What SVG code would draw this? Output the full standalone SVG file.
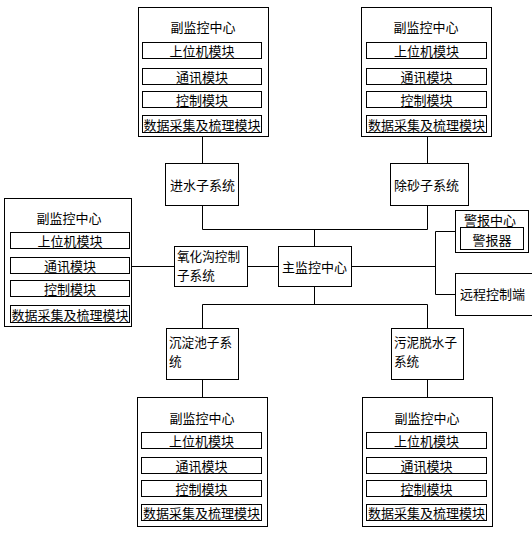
<svg xmlns="http://www.w3.org/2000/svg" width="532" height="533" viewBox="0 0 532 533">
<style>
rect{fill:#fff;stroke:#000;stroke-width:1}
.c{fill:none;stroke:#000;stroke-width:1}
text{font-family:"Noto Sans CJK SC","Noto Sans",sans-serif;font-size:13px;fill:#000;dominant-baseline:central}
.m{text-anchor:middle}
.two{font-size:12.6px}
</style>
<rect x="0" y="0" width="532" height="533" style="stroke:none"/>
<g id="connectors">
<path class="c" d="M202.5 137V163.5M427.5 137V163.5M202.5 205.5V229.5H427.5V205.5M314.5 229.5V246.5M131.5 266.5H174.5M247.5 266.5H278.5M351.5 266.5H435.5M435.5 231.5V294.5M435.5 231.5H455.5M435.5 294.5H455.5M314.5 286.5V304.5M202.5 304.5H427.5M202.5 304.5V328.5M427.5 304.5V328.5M202.5 379.5V397.5M427.5 379.5V397.5"/>
</g>
<g id="sub-top-left">
<rect x="138.5" y="7.5" width="130" height="129"/>
<text class="m" x="203" y="26">副监控中心</text>
<rect x="142.5" y="42.5" width="119" height="16"/><text class="m" x="202" y="50.5">上位机模块</text>
<rect x="142.5" y="68.5" width="119" height="16"/><text class="m" x="202" y="76.5">通讯模块</text>
<rect x="142.5" y="91.5" width="119" height="16"/><text class="m" x="202" y="99.5">控制模块</text>
<rect x="142.5" y="115.5" width="119" height="17"/><text class="m" x="202" y="124">数据采集及梳理模块</text>
</g>
<g id="sub-top-right">
<rect x="361.5" y="7.5" width="130" height="129"/>
<text class="m" x="426" y="26">副监控中心</text>
<rect x="366.5" y="42.5" width="120" height="16"/><text class="m" x="426.5" y="50.5">上位机模块</text>
<rect x="366.5" y="68.5" width="120" height="16"/><text class="m" x="426.5" y="76.5">通讯模块</text>
<rect x="366.5" y="91.5" width="120" height="16"/><text class="m" x="426.5" y="99.5">控制模块</text>
<rect x="366.5" y="115.5" width="120" height="17"/><text class="m" x="426.5" y="124">数据采集及梳理模块</text>
</g>
<g id="sub-left">
<rect x="4.5" y="198.5" width="127" height="128"/>
<text class="m" x="69" y="217.5">副监控中心</text>
<rect x="10.5" y="232.5" width="119" height="16"/><text class="m" x="70" y="240.5">上位机模块</text>
<rect x="10.5" y="257.5" width="119" height="16"/><text class="m" x="70" y="265.5">通讯模块</text>
<rect x="10.5" y="280.5" width="119" height="16"/><text class="m" x="70" y="288.5">控制模块</text>
<rect x="10.5" y="305.5" width="119" height="17"/><text class="m" x="70" y="314">数据采集及梳理模块</text>
</g>
<g id="sub-bottom-left">
<rect x="137.5" y="397.5" width="130" height="129"/>
<text class="m" x="202" y="417.5">副监控中心</text>
<rect x="141.5" y="432.5" width="120" height="16"/><text class="m" x="201.5" y="440.5">上位机模块</text>
<rect x="141.5" y="457.5" width="120" height="16"/><text class="m" x="201.5" y="465.5">通讯模块</text>
<rect x="141.5" y="480.5" width="120" height="16"/><text class="m" x="201.5" y="488.5">控制模块</text>
<rect x="141.5" y="504.5" width="120" height="16"/><text class="m" x="201.5" y="512.5">数据采集及梳理模块</text>
</g>
<g id="sub-bottom-right">
<rect x="362.5" y="397.5" width="130" height="129"/>
<text class="m" x="427" y="417.5">副监控中心</text>
<rect x="366.5" y="432.5" width="120" height="16"/><text class="m" x="426.5" y="440.5">上位机模块</text>
<rect x="366.5" y="457.5" width="120" height="16"/><text class="m" x="426.5" y="465.5">通讯模块</text>
<rect x="366.5" y="480.5" width="120" height="16"/><text class="m" x="426.5" y="488.5">控制模块</text>
<rect x="366.5" y="504.5" width="120" height="16"/><text class="m" x="426.5" y="512.5">数据采集及梳理模块</text>
</g>
<g id="inlet"><rect x="165.5" y="163.5" width="73" height="42"/><text x="170" y="184.5">进水子系统</text></g>
<g id="desand"><rect x="390.5" y="163.5" width="78" height="42"/><text x="394" y="184.5">除砂子系统</text></g>
<g id="oxidation"><rect x="174.5" y="246.5" width="73" height="40"/><text class="two" x="177" y="255.5">氧化沟控制<tspan x="177" dy="18.5">子系统</tspan></text></g>
<g id="main"><rect x="278.5" y="246.5" width="73" height="40"/><text x="282" y="266.5">主监控中心</text></g>
<g id="sediment"><rect x="166.5" y="328.5" width="72" height="51"/><text class="two" x="169" y="341">沉淀池子系<tspan x="169" dy="18.5">统</tspan></text></g>
<g id="sludge"><rect x="391.5" y="328.5" width="72" height="51"/><text class="two" x="394" y="341">污泥脱水子<tspan x="394" dy="18.5">系统</tspan></text></g>
<g id="alarm"><rect x="455.5" y="210.5" width="73" height="42"/><text class="m" x="490" y="219">警报中心</text><rect x="460.5" y="227.5" width="63" height="22"/><text class="m" x="492" y="239">警报器</text></g>
<g id="remote"><rect x="455.5" y="273.5" width="80" height="42"/><text x="460" y="293.5">远程控制端</text></g>
</svg>
